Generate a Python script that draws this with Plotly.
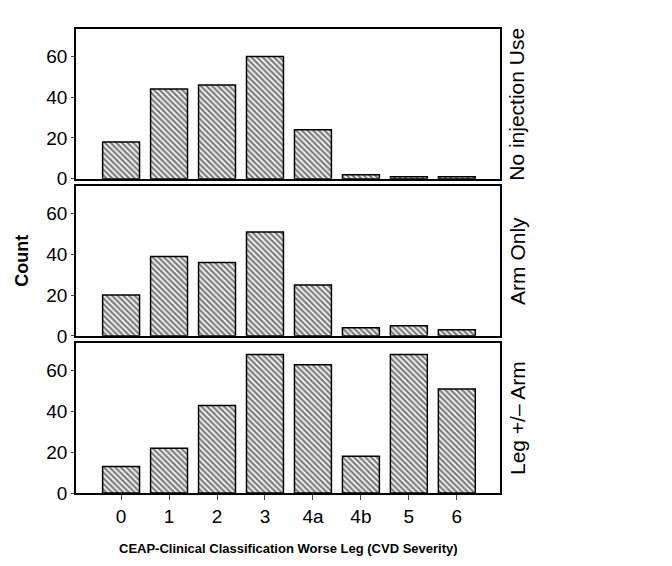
import plotly.graph_objects as go
from plotly.subplots import make_subplots

categories = ["0", "1", "2", "3", "4a", "4b", "5", "6"]
no_injection = [18, 44, 46, 60, 24, 2, 1, 1]
arm_only = [20, 39, 36, 51, 25, 4, 5, 3]
leg_arm = [13, 22, 43, 68, 63, 18, 68, 51]
panel_labels = ["No injection Use", "Arm Only", "Leg +/\u2013 Arm"]
y_ticks = [0, 20, 40, 60]

series = [no_injection, arm_only, leg_arm]

fig = make_subplots(rows=3, cols=1, shared_xaxes=True, vertical_spacing=0.016)

for i, vals in enumerate(series):
    fig.add_trace(go.Bar(
        x=categories, y=vals, width=0.77,
        marker=dict(color="white",
                    line=dict(color="black", width=1.5),
                    pattern=dict(shape="\\", fgcolor="black", bgcolor="white",
                                 size=4, solidity=0.6)),
        showlegend=False), row=i + 1, col=1)

font = dict(family="Liberation Sans, Arial, sans-serif", color="black")

for i in range(3):
    fig.update_yaxes(range=[0, 73.5], tickvals=y_ticks, ticks="outside", ticklen=3,
                     tickfont=dict(size=19, **font), showline=True, mirror=True,
                     linecolor="black", linewidth=1.5, showgrid=False, zeroline=False,
                     row=i + 1, col=1)
    fig.update_xaxes(type="category", range=[-0.94, 7.9], showline=True, mirror=True,
                     linecolor="black", linewidth=1.5, showgrid=False,
                     ticks="outside" if i == 2 else "", ticklen=5,
                     tickfont=dict(size=19, **font), row=i + 1, col=1)

# strip labels on the right
for i, lab in enumerate(panel_labels):
    yref = "y domain" if i == 0 else f"y{i+1} domain"
    fig.add_annotation(text=lab, xref="paper", yref=yref, x=1.008, y=0.5,
                       xanchor="left", yanchor="middle", textangle=-90,
                       showarrow=False, font=dict(size=21, **font))

fig.add_annotation(text="<b>Count</b>", xref="paper", yref="paper", x=-0.128, y=0.5,
                   xanchor="center", yanchor="middle", textangle=-90,
                   showarrow=False, font=dict(size=18, **font))
fig.add_annotation(text="<b>CEAP-Clinical Classification Worse Leg (CVD Severity)</b>",
                   xref="paper", yref="paper", x=0.5, y=-0.12, xanchor="center",
                   yanchor="middle", showarrow=False, font=dict(size=13, **font))

fig.update_layout(width=672, height=566, margin=dict(l=68, r=180, t=21, b=81),
                  plot_bgcolor="white", paper_bgcolor="white", bargap=0.2)

fig.write_html("out.html")
